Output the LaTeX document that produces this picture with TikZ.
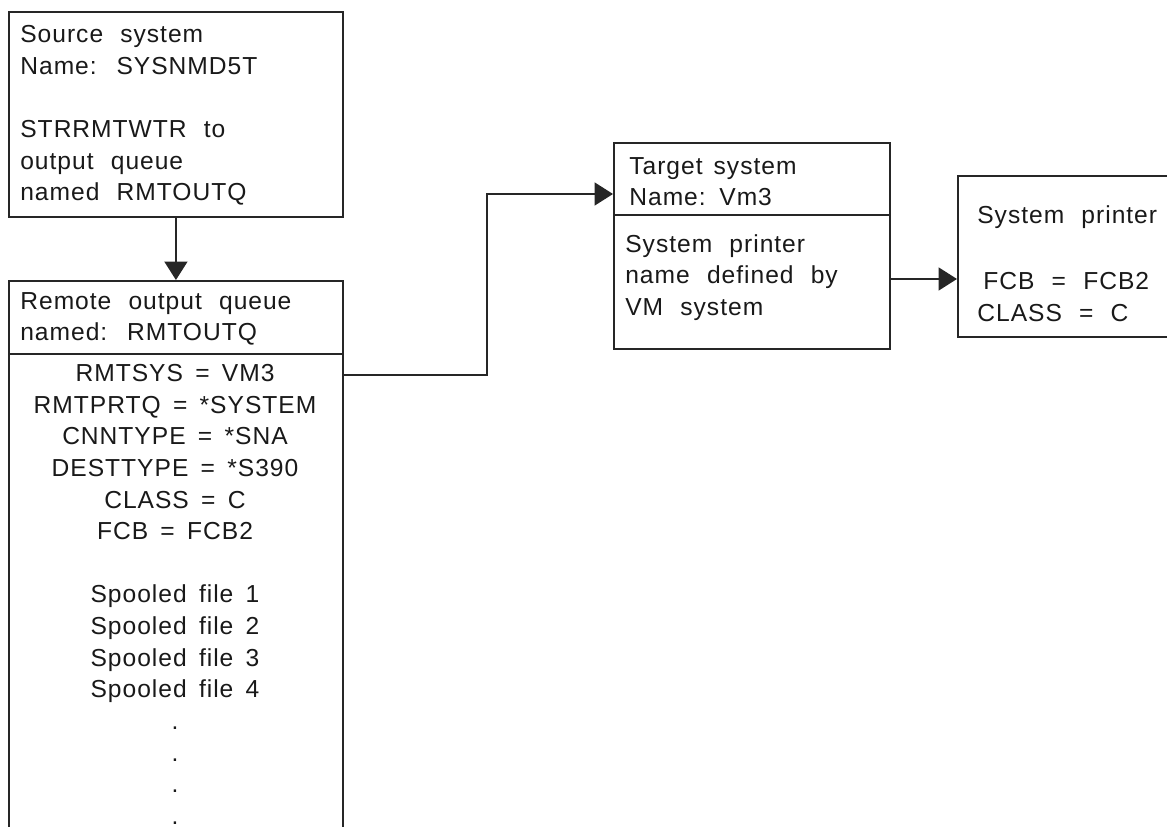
\documentclass[tikz,border=0pt]{standalone}
\usepackage{fontspec}
\usepackage{tikz}
\usetikzlibrary{arrows.meta}
\newfontfamily\queuefont[LetterSpace=4]{Liberation Sans}
\newcommand{\diagsize}{\fontsize{14pt}{18pt}\selectfont}
\newcommand{\gaps}[1]{\spaceskip=#1em\relax}

\begin{document}
\begin{tikzpicture}[x=0.02cm, y=-0.02cm,
  box/.style={draw=black!85, line width=1.1pt, anchor=north west, inner sep=0pt},
  txt/.style={anchor=north west, inner sep=0pt, align=left, text=black!90,
    font={\queuefont\diagsize\gaps{0.7}}},
  listing/.style={txt, anchor=north, align=center,
    font={\queuefont\diagsize\gaps{0.5}}},
  header/.style={txt, font={\queuefont\diagsize\gaps{0.45}}},
  divider/.style={draw=black!85, line width=1.1pt},
  arrow/.style={draw=black!85, line width=1.1pt, -{Triangle[length=3.7mm, width=4.6mm]}}
]
\useasboundingbox (0,0) rectangle (1167,826);
\clip (0,0) rectangle (1167,826);

% Boxes (left to right)
\node[box, minimum width=6.68cm, minimum height=4.1cm] (src) at (8,11) {};
\node[box, minimum width=6.68cm, minimum height=11.6cm] (rq) at (8,280) {};
\node[box, minimum width=5.52cm, minimum height=4.12cm] (tgt) at (613,142) {};
\node[box, minimum width=4.86cm, minimum height=3.22cm] (prt) at (957,175) {};

% Dividers
\draw[divider] ([yshift=-1.48cm]rq.north west) -- ([yshift=-1.48cm]rq.north east);
\draw[divider] ([yshift=-1.46cm]tgt.north west) -- ([yshift=-1.46cm]tgt.north east);

% Texts
\node[txt] (src text) at (20,25)
  {Source system\\Name: SYSNMD5T\\[18pt]STRRMTWTR to\\output queue\\named RMTOUTQ};
\node[txt] (rq head) at (20,292) {Remote output queue\\named: RMTOUTQ};
\node[listing] (rq body) at (175,364)
  {RMTSYS = VM3\\RMTPRTQ = *SYSTEM\\CNNTYPE = *SNA\\DESTTYPE = *S390\\CLASS = C\\FCB = FCB2\\[18pt]
   Spooled file 1\\Spooled file 2\\Spooled file 3\\Spooled file 4\\.\\.\\.\\.};
\node[header] (tgt head) at (629,157) {Target system\\Name: Vm3};
\node[txt] (tgt body) at (625,234) {System printer\\name defined by\\VM system};
\node[txt] (prt text) at (977,205)
  {System printer\\[20pt]\hspace{3.4pt}FCB = FCB2\\CLASS = C};

% Connectors
\draw[arrow] (src.south) -- (rq.north);
\draw[arrow] ([yshift=-1.9cm]rq.north east) -- ++(2.86cm,0)
  |- ([yshift=-1.04cm]tgt.north west);
\draw[arrow] ([yshift=-2.74cm]tgt.north east) -- ([yshift=-2.08cm]prt.north west);

\end{tikzpicture}
\end{document}
